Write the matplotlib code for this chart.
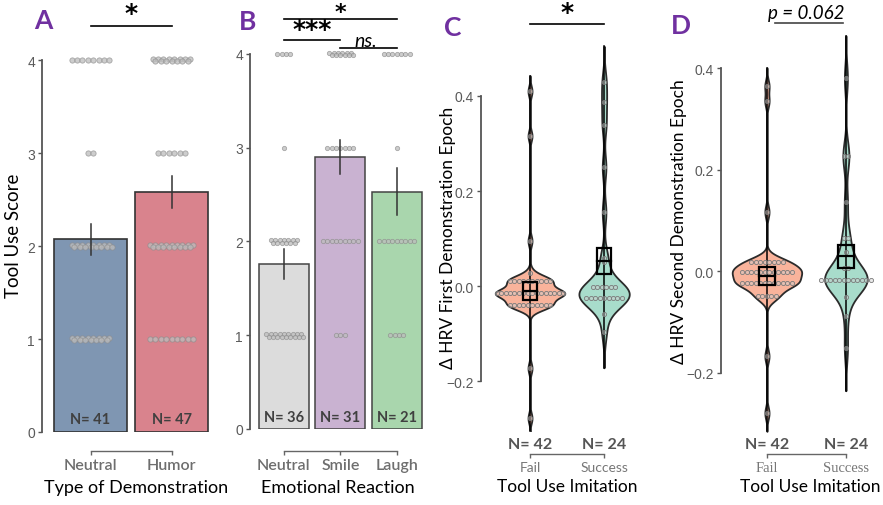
import numpy as np
import matplotlib
matplotlib.use("Agg")
import matplotlib.pyplot as plt
from matplotlib.patches import Rectangle

W, H = 883, 506

# panel A: tool use score by type of demonstration
demo_groups = ["Neutral", "Humor"]
demo_means = [2.07, 2.58]
demo_err_lo = [1.90, 2.41]
demo_err_hi = [2.24, 2.75]
demo_n = [41, 47]
score_levels = [1, 2, 3, 4]
demo_counts = [[15, 16, 2, 8], [9, 17, 6, 15]]  # dots per score level

# panel B: tool use score by emotional reaction
react_groups = ["Neutral", "Smile", "Laugh"]
react_means = [1.76, 2.90, 2.53]
react_err_lo = [1.60, 2.72, 2.28]
react_err_hi = [1.92, 3.08, 2.78]
react_n = [36, 31, 21]
react_counts = [[18, 13, 1, 4], [3, 9, 7, 12], [4, 9, 1, 7]]

# panels C/D: delta HRV by imitation outcome
imit_groups = ["Fail", "Success"]
imit_n = [42, 24]
hrv1_fail_vals = [0.41, 0.316, 0.095, 0.028, 0.011, -0.015, -0.040, -0.173, -0.278]
hrv1_fail_cnt = [1, 1, 1, 1, 10, 16, 10, 1, 1]
hrv1_succ_vals = [0.43, 0.387, 0.34, 0.25, 0.155, 0.06, 0.05, -0.002, -0.025, -0.059, -0.097]
hrv1_succ_cnt = [1, 1, 1, 1, 1, 1, 1, 6, 9, 1, 1]
hrv1_mean = [-0.011, 0.053]
hrv1_se = [0.019, 0.027]

hrv2_fail_vals = [0.365, 0.335, 0.117, 0.018, -0.001, -0.023, -0.048, -0.167, -0.279]
hrv2_fail_cnt = [1, 1, 1, 8, 12, 12, 5, 1, 1]
hrv2_succ_vals = [0.38, 0.227, 0.136, 0.065, 0.038, 0.006, -0.017, -0.05, -0.088, -0.151]
hrv2_succ_cnt = [1, 2, 1, 2, 1, 2, 12, 1, 1, 1]
hrv2_mean = [-0.009, 0.030]
hrv2_se = [0.0175, 0.0225]

PURPLE = "#7030A0"
SANS = ["Lato", "DejaVu Sans"]
TICKGRAY = "#5a5a5a"

fig = plt.figure(figsize=(W / 100, H / 100), dpi=100)


def add_ax(x0, x1, y0, y1):
    return fig.add_axes([x0 / W, 1 - y1 / H, (x1 - x0) / W, (y1 - y0) / H])


def ftext(x, y, s, **kw):
    fig.text(x / W, 1 - y / H, s, **kw)


def style(ax, ybounds, xbounds, xoff_px, yticks):
    for s in ["top", "right"]:
        ax.spines[s].set_visible(False)
    ax.spines["left"].set_bounds(*ybounds)
    ax.spines["bottom"].set_bounds(*xbounds)
    ax.spines["bottom"].set_position(("outward", xoff_px * 0.72))
    ax.spines["left"].set_color("#555555")
    ax.spines["bottom"].set_color("#666666")
    ax.spines["left"].set_linewidth(1.3)
    ax.spines["bottom"].set_linewidth(1.0)
    ax.set_yticks(yticks)
    ax.tick_params(axis="y", length=3, width=1, color="#555555", pad=2,
                   labelsize=10, labelcolor=TICKGRAY)
    ax.tick_params(axis="x", length=3, width=1, color="#666666", pad=2)
    for lab in ax.get_yticklabels():
        lab.set_family("Liberation Sans")


def score_dots(ax, pos, counts, step, maxrow, ms):
    for lvl, n in zip(score_levels, counts):
        nrows = int(np.ceil(n / maxrow))
        sizes = [n // nrows + (1 if r < n % nrows else 0) for r in range(nrows)]
        for r, k in enumerate(sizes):
            dy = 0 if nrows == 1 else (0.015 if r == 0 else -0.015)
            shift = step / 2 if (r == 1 and k == sizes[0]) else 0
            xs = pos + (np.arange(k) - (k - 1) / 2) * step + shift
            ax.plot(xs, np.full(k, lvl + dy), "o", ms=ms,
                    mfc=(0.74, 0.74, 0.74, 0.75), mec=(0.55, 0.55, 0.55, 0.7),
                    mew=0.6, ls="none", zorder=3, clip_on=False)


def sig_line(ax, x0, x1, y, lw=1.2, color="black"):
    ax.plot([x0, x1], [y, y], color=color, lw=lw, clip_on=False, zorder=6)


def star(ax, x, y, s="*", size=18):
    # y is the text baseline
    ax.text(x, y, s, ha="center", va="baseline", size=size, weight="bold",
            family="DejaVu Sans", clip_on=False)


# ---------------- panel A ----------------
axA = add_ax(42, 215, 40, 433)
axA.set_xlim(-0.599, 1.537)
axA.set_ylim(0, 4.226)
axA.bar(range(2), demo_means, width=0.9, color=["#7F96B2", "#D9838D"],
        edgecolor="#333333", lw=1.2, zorder=1)
for i in range(2):
    axA.plot([i, i], [demo_err_lo[i], demo_err_hi[i]], color="#333333", lw=1.1, zorder=4)
    score_dots(axA, i, demo_counts[i], 0.066, 9, 3.8)
    axA.text(i, 0.14, "N= %d" % demo_n[i], ha="center", va="center",
             family=SANS, weight="bold", size=10.5, color="#404040", zorder=5)
style(axA, (0, 4), (0, 1), 19, [0, 1, 2, 3, 4])
axA.set_xticks(range(2))
axA.set_xticklabels(demo_groups, family=SANS, weight="semibold", size=11.5, color="#6e6e6e")
sig_line(axA, 0, 1, 4.366)
star(axA, 0.5, 4.43)

# ---------------- panel B ----------------
axB = add_ax(250, 425, 35, 430)
axB.set_xlim(-0.60, 2.5)
axB.set_ylim(0, 4.213)
axB.bar(range(3), react_means, width=0.885, color=["#DCDCDC", "#C9B2D1", "#A9D6AD"],
        edgecolor="#444444", lw=1.1, zorder=1)
for i in range(3):
    axB.plot([i, i], [react_err_lo[i], react_err_hi[i]], color="#333333", lw=1.1, zorder=4)
    score_dots(axB, i, react_counts[i], 0.077, 9, 3.1)
    axB.text(i, 0.13, "N= %d" % react_n[i], ha="center", va="center",
             family=SANS, weight="bold", size=10.5, color="#404040", zorder=5)
style(axB, (0, 4), (0, 2), 22, [0, 1, 2, 3, 4])
axB.set_xticks(range(3))
axB.set_xticklabels(react_groups, family=SANS, weight="semibold", size=11.5, color="#6e6e6e")
sig_line(axB, 0, 2, 4.373)
star(axB, 1.0, 4.384, size=16)
sig_line(axB, 0, 1, 4.15)
star(axB, 0.5, 4.19, "***")
sig_line(axB, 1, 2, 4.064)
axB.text(1.45, 4.09, "ns.", ha="center", va="baseline", size=14, style="italic",
         family=SANS, clip_on=False)


# ---------------- violins ----------------
def violin(ax, vals, cnts, pos, color, bw, half_w, step):
    data = np.repeat(vals, cnts)
    grid = np.linspace(data.min() - 3 * bw, data.max() + 3 * bw, 500)
    dens = np.exp(-0.5 * ((grid[:, None] - data[None, :]) / bw) ** 2).sum(axis=1)
    dens = dens / dens.max() * half_w
    ax.fill_betweenx(grid, pos - dens, pos + dens, facecolor=color,
                     edgecolor="#2b2b2b", lw=1.3, zorder=2)
    ax.plot([pos, pos], [grid.min(), grid.max()], color="black", lw=1.1, zorder=3)
    for v, k in zip(vals, cnts):
        xs = pos + (np.arange(k) - (k - 1) / 2) * step
        ax.plot(xs, np.full(k, v), "o", ms=3.0, mfc=(0.8, 0.8, 0.8, 0.45),
                mec="#7a7a7a", mew=0.6, ls="none", zorder=4)


def mean_box(ax, pos, m, se, w=0.2):
    ax.add_patch(Rectangle((pos - w / 2, m - se), w, 2 * se, fill=False,
                           edgecolor="black", lw=1.6, zorder=5))
    ax.plot([pos - w / 2, pos + w / 2], [m, m], color="black", lw=1.6, zorder=5)


def hrv_panel(ax, fail, succ, means, ses, bws, widths, xoff, step):
    violin(ax, fail[0], fail[1], 0, "#F9B39B", bws[0], widths[0], step)
    violin(ax, succ[0], succ[1], 1, "#A8DCCB", bws[1], widths[1], step)
    for i in range(2):
        mean_box(ax, i, means[i], ses[i])
    style(ax, (-0.2, 0.4), (0, 1), xoff, [-0.2, 0.0, 0.2, 0.4])
    ax.set_xticks(range(2))


# panel C
axC = add_ax(481, 650, 30, 432)
axC.set_xlim(-0.662, 1.62)
axC.set_ylim(-0.305, 0.541)
hrv_panel(axC, (hrv1_fail_vals, hrv1_fail_cnt), (hrv1_succ_vals, hrv1_succ_cnt),
          hrv1_mean, hrv1_se, (0.011, 0.025), (0.47, 0.34), 23, 0.06)
axC.set_xticklabels(imit_groups, family=SANS, size=10, color="#777777")
for i in range(2):
    axC.text(i, -0.333, "N= %d" % imit_n[i], ha="center", va="center", family=SANS,
             weight="bold", size=11.5, color="#555555", clip_on=False)
sig_line(axC, 0, 1, 0.552)
star(axC, 0.5, 0.562)

# panel D
axD = add_ax(721, 883, 25, 440)
axD.set_xlim(-0.582, 1.47)
axD.set_ylim(-0.330, 0.487)
hrv_panel(axD, (hrv2_fail_vals, hrv2_fail_cnt), (hrv2_succ_vals, hrv2_succ_cnt),
          hrv2_mean, hrv2_se, (0.012, 0.028), (0.44, 0.27), 15, 0.057)
axD.set_xticklabels(imit_groups, family=["Liberation Serif", "DejaVu Serif"], size=10.5, color="#777777")
for i in range(2):
    axD.text(i, -0.340, "N= %d" % imit_n[i], ha="center", va="center", family=SANS,
             weight="bold", size=11.5, color="#555555", clip_on=False)
sig_line(axD, 0.1, 0.96, 0.489, color="#444444")
axD.text(0.5, 0.492, "p = 0.062", ha="center", va="bottom", size=13.5, style="italic",
         family=SANS, clip_on=False)

# axis titles and panel letters
ftext(14, 236, "Tool Use Score", rotation=90, ha="center", va="center", family=SANS, size=13.5)
ftext(448, 238, "\u0394 HRV First Demonstration Epoch", rotation=90, ha="center", va="center",
      family=SANS, size=12.5)
ftext(679, 222, "\u0394 HRV Second Demonstration Epoch", rotation=90, ha="center", va="center",
      family=SANS, size=12.5)
ftext(136, 488, "Type of Demonstration", ha="center", va="center", family=SANS, size=13)
ftext(338, 488, "Emotional Reaction", ha="center", va="center", family=SANS, size=13)
ftext(567, 487, "Tool Use Imitation", ha="center", va="center", family=SANS, size=12.5)
ftext(810, 487, "Tool Use Imitation", ha="center", va="center", family=SANS, size=12.5)
for lx, ly, letter in [(43, 21, "A"), (248, 22, "B"), (453, 28, "C"), (681, 26, "D")]:
    ftext(lx, ly, letter, ha="center", va="center", family=SANS, weight="bold", size=19, color=PURPLE)

fig.savefig("out.png", dpi=100)
